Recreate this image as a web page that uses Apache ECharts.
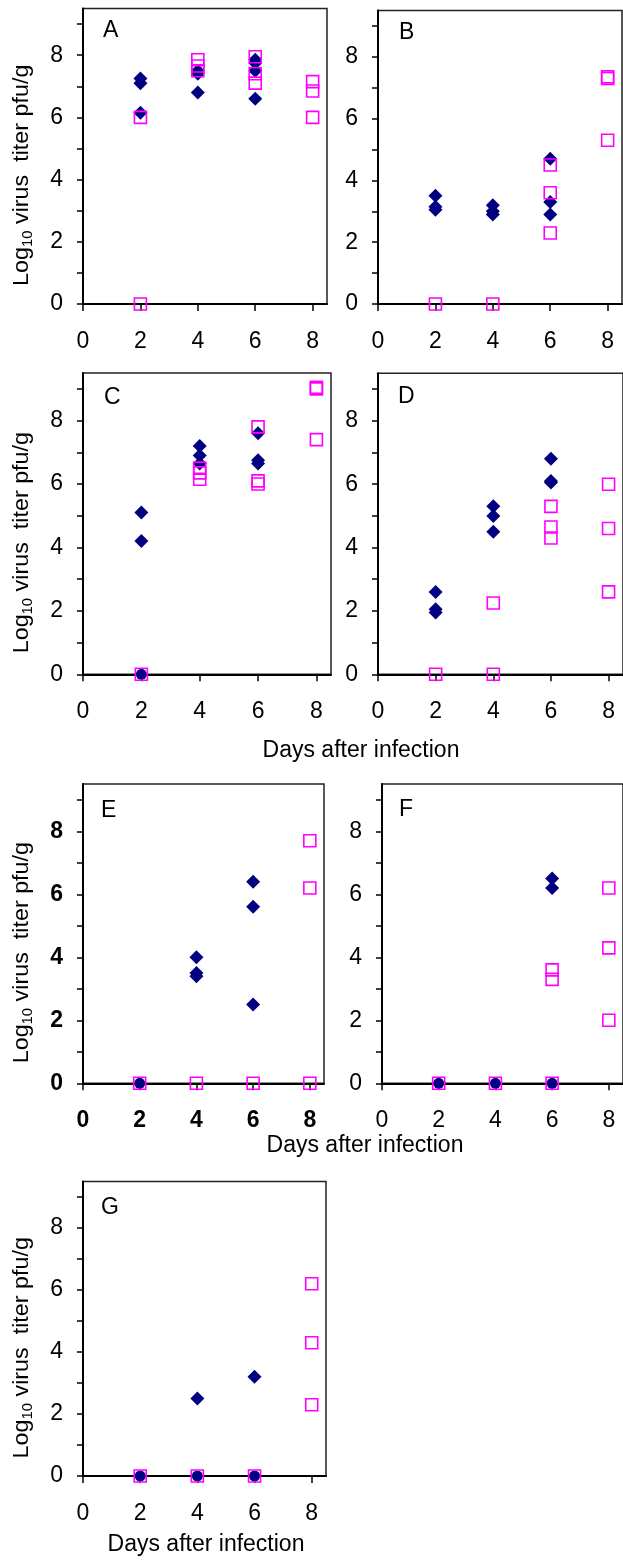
<!DOCTYPE html>
<html><head><meta charset="utf-8">
<script src="https://cdn.jsdelivr.net/npm/echarts@6/dist/echarts.min.js"></script>
<style>html,body{margin:0;padding:0;background:#fff}#c{width:623px;height:1560px}</style>
</head><body><div id="c"></div>
<script>
// ---- data ----
const xTicks = [0, 2, 4, 6, 8];
const yTicks = [0, 1, 2, 3, 4, 5, 6, 7, 8, 9];
const yLabels = [0, 2, 4, 6, 8];
const panelNames = ['A', 'B', 'C', 'D', 'E', 'F', 'G'];
const xTitle = 'Days after infection';

const A_navy = [[2,7.25],[2,7.1],[2,6.15],[4,7.5],[4,7.4],[4,6.8],[6,7.85],[6,7.75],[6,7.5],[6,6.6]];
const A_zero = [];
const A_magenta = [[2,6.0],[2,0],[4,7.85],[4,7.65],[4,7.5],[6,7.95],[6,7.4],[6,7.1],[8,7.15],[8,6.85],[8,6.0]];

const B_navy = [[2,3.5],[2,3.15],[2,3.05],[4,3.2],[4,3.0],[4,2.9],[6,4.7],[6,3.3],[6,2.9]];
const B_zero = [];
const B_magenta = [[2,0],[4,0],[6,4.5],[6,3.6],[6,2.3],[8,7.35],[8,7.3],[8,5.3]];

const C_navy = [[2,5.1],[2,4.2],[4,7.2],[4,6.9],[4,6.65],[6,7.6],[6,6.75],[6,6.65]];
const C_zero = [[2,0]];
const C_magenta = [[2,0],[4,6.5],[4,6.35],[4,6.15],[6,7.8],[6,6.1],[6,6.0],[8,9.05],[8,9.0],[8,7.4]];

const D_navy = [[2,2.6],[2,2.05],[2,1.95],[4,5.3],[4,5.0],[4,4.5],[6,6.8],[6,6.1],[6,6.05]];
const D_zero = [];
const D_magenta = [[2,0],[4,2.25],[4,0],[6,5.3],[6,4.65],[6,4.3],[8,6.0],[8,4.6],[8,2.6]];

const E_navy = [[4,4.0],[4,3.5],[4,3.4],[6,6.4],[6,5.6],[6,2.5]];
const E_zero = [[2,0]];
const E_magenta = [[2,0],[4,0],[6,0],[8,0],[8,7.7],[8,6.2]];

const F_navy = [[6,6.5],[6,6.2]];
const F_zero = [[2,0],[4,0],[6,0]];
const F_magenta = [[2,0],[4,0],[6,3.6],[6,3.3],[6,0],[8,6.2],[8,4.3],[8,2.0]];

const G_navy = [[4,2.5],[6,3.2]];
const G_zero = [[2,0],[4,0],[6,0]];
const G_magenta = [[2,0],[4,0],[6,0],[8,6.2],[8,4.3],[8,2.3]];

const navySets = [A_navy, B_navy, C_navy, D_navy, E_navy, F_navy, G_navy];
const zeroSets = [A_zero, B_zero, C_zero, D_zero, E_zero, F_zero, G_zero];
const magentaSets = [A_magenta, B_magenta, C_magenta, D_magenta, E_magenta, F_magenta, G_magenta];

// ---- layout ----
const FONT = 'Liberation Sans, Arial, sans-serif';
const layout = [
  {left:83, top:8.5, width:244, height:295.5, bold:false, yTitle:true, letter:[103,31]},
  {left:378, top:10.5, width:244, height:293.5, bold:false, yTitle:false, letter:[399,33]},
  {left:83, top:373, width:248, height:301.3, bold:false, yTitle:true, letter:[104,398]},
  {left:378, top:373.3, width:248, height:301, bold:false, yTitle:false, letter:[398,397]},
  {left:83, top:784, width:241, height:299.3, bold:true, yTitle:true, letter:[101,811]},
  {left:382, top:784, width:243, height:299.3, bold:false, yTitle:false, letter:[399,810]},
  {left:83, top:1181.5, width:243, height:294.5, bold:false, yTitle:true, letter:[101,1208]}
];
const xTitlePos = [[361,751],[365,1146],[206,1545]];

const grid = [], xAxis = [], yAxis = [], series = [], graphic = [];
layout.forEach((L, i) => {
  grid.push({left:L.left, top:L.top, width:L.width, height:L.height, show:true,
    borderColor:'#222', borderWidth:1.5, backgroundColor:'transparent', containLabel:false});
  const lab = {fontSize:23, color:'#000', fontFamily:FONT, fontWeight: L.bold ? 'bold' : 'normal'};
  xAxis.push({gridIndex:i, type:'value', min:0, max:8.5,
    axisLine:{onZero:false, lineStyle:{color:'#000', width:2}},
    axisTick:{customValues:xTicks, length:7, lineStyle:{color:'#000', width:1.5}},
    axisLabel:Object.assign({customValues:xTicks, margin:26}, lab),
    splitLine:{show:false}});
  yAxis.push({gridIndex:i, type:'value', min:0, max:9.5,
    axisLine:{onZero:false, lineStyle:{color:'#000', width:2}},
    axisTick:{customValues:yTicks, length:6, lineStyle:{color:'#000', width:1.5}},
    axisLabel:Object.assign({customValues:yLabels, margin:20}, lab),
    splitLine:{show:false}});
  series.push({type:'scatter', xAxisIndex:i, yAxisIndex:i, data:navySets[i], symbol:'diamond',
    symbolSize:14, itemStyle:{color:'#000080', opacity:1}, z:2});
  series.push({type:'scatter', xAxisIndex:i, yAxisIndex:i, data:zeroSets[i], symbol:'circle',
    symbolSize:11, itemStyle:{color:'#000080', opacity:1}, z:2});
  series.push({type:'scatter', xAxisIndex:i, yAxisIndex:i, data:magentaSets[i], symbol:'rect',
    symbolSize:12, itemStyle:{color:'rgba(255,255,255,0)', borderColor:'#FF00FF', borderWidth:1.6, opacity:1}, z:3});
  graphic.push({type:'text', x:L.letter[0], y:L.letter[1],
    style:{text:panelNames[i], fontSize:23, fontFamily:FONT, fill:'#000', align:'left', verticalAlign:'middle'}});
  if (L.yTitle) {
    graphic.push({type:'text', x:22, y:L.top + L.height/2 + 19, rotation:Math.PI/2, scaleX:1.06,
      style:{text:'{a|Log}{b|10}{a| virus  titer pfu/g}', align:'center', verticalAlign:'middle',
        rich:{a:{fontSize:22, fontFamily:FONT, fill:'#000', lineHeight:27, verticalAlign:'middle'},
              b:{fontSize:14, fontFamily:FONT, fill:'#000', lineHeight:27, verticalAlign:'bottom', padding:[9,0,0,0]}}}});
  }
});
xTitlePos.forEach(p => graphic.push({type:'text', x:p[0], y:p[1],
  style:{text:xTitle, fontSize:23, fontFamily:FONT, fill:'#000', align:'center', verticalAlign:'middle'}}));

const chart = echarts.init(document.getElementById('c'), null, {renderer:'canvas'});
chart.setOption({animation:false, backgroundColor:'#fff', grid, xAxis, yAxis, series, graphic});
</script></body></html>
